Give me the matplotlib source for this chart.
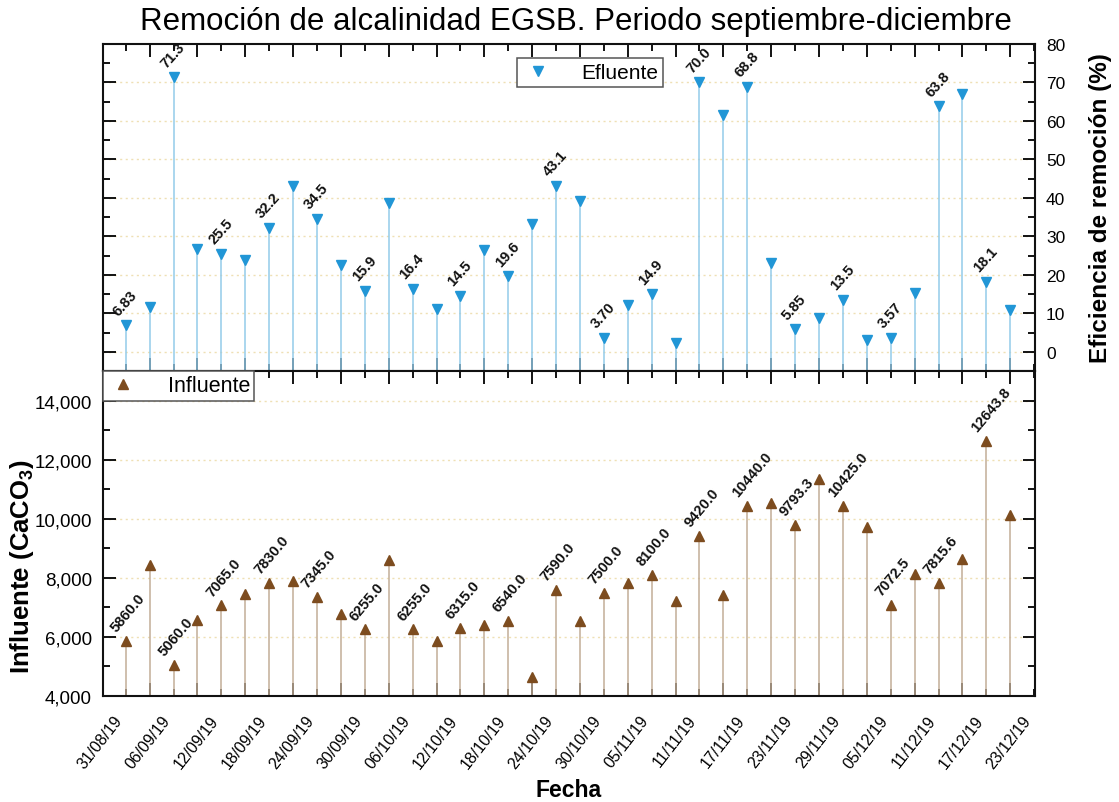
import matplotlib
matplotlib.use("Agg")
import matplotlib.pyplot as plt
import matplotlib.dates as mdates
from matplotlib.ticker import FixedLocator, MultipleLocator, FuncFormatter
from matplotlib.lines import Line2D
import pandas as pd

plt.rcParams['font.family'] = ['Liberation Sans', 'DejaVu Sans']
plt.rcParams['mathtext.fontset'] = 'custom'
plt.rcParams['mathtext.rm'] = 'Liberation Sans'
plt.rcParams['mathtext.bf'] = 'Liberation Sans:bold'

# ---------------- data ----------------
fechas_muestra = [
    "31/08/19", "03/09/19", "06/09/19", "09/09/19", "12/09/19", "15/09/19",
    "18/09/19", "21/09/19", "24/09/19", "27/09/19", "30/09/19", "03/10/19",
    "06/10/19", "09/10/19", "12/10/19", "15/10/19", "18/10/19", "21/10/19",
    "24/10/19", "27/10/19", "30/10/19", "02/11/19", "05/11/19", "08/11/19",
    "11/11/19", "14/11/19", "17/11/19", "20/11/19", "23/11/19", "26/11/19",
    "29/11/19", "02/12/19", "05/12/19", "08/12/19", "11/12/19", "14/12/19",
    "17/12/19", "20/12/19",
]
efluente = [6.83, 11.6, 71.3, 26.7, 25.5, 23.9, 32.2, 43.2, 34.5, 22.5,
            15.9, 38.7, 16.4, 11.1, 14.5, 26.5, 19.6, 33.2, 43.1, 39.3,
            3.70, 12.2, 14.9, 2.4, 70.0, 61.5, 68.8, 23.2, 5.85, 8.7,
            13.5, 3.0, 3.57, 15.4, 63.8, 67.1, 18.1, 10.8]
influente = [5860.0, 8420, 5060.0, 6560, 7065.0, 7450, 7830.0, 7900, 7345.0, 6780,
             6255.0, 8600, 6255.0, 5860, 6315.0, 6410, 6540.0, 4660, 7590.0, 6555,
             7500.0, 7840, 8100.0, 7210, 9420.0, 7435, 10440.0, 10520, 9793.3, 11330,
             10425.0, 9710, 7072.5, 8145, 7815.6, 8630, 12643.8, 10125]
etiquetas_fecha = ["31/08/19", "06/09/19", "12/09/19", "18/09/19", "24/09/19",
                   "30/09/19", "06/10/19", "12/10/19", "18/10/19", "24/10/19",
                   "30/10/19", "05/11/19", "11/11/19", "17/11/19", "23/11/19",
                   "29/11/19", "05/12/19", "11/12/19", "17/12/19", "23/12/19"]
minor_fechas = ["03/09/19", "09/09/19", "15/09/19", "21/09/19", "27/09/19",
                "03/10/19", "09/10/19", "15/10/19", "21/10/19", "27/10/19",
                "02/11/19", "08/11/19", "14/11/19", "20/11/19", "26/11/19",
                "02/12/19", "08/12/19", "14/12/19", "20/12/19"]

titulo = "Remoción de alcalinidad EGSB. Periodo septiembre-diciembre"

x = mdates.date2num(pd.to_datetime(fechas_muestra, format="%d/%m/%y"))
xt = mdates.date2num(pd.to_datetime(etiquetas_fecha, format="%d/%m/%y"))
xm = mdates.date2num(pd.to_datetime(minor_fechas, format="%d/%m/%y"))

# ---------------- style ----------------
W, H = 1119, 803
fig = plt.figure(figsize=(W / 100, H / 100), dpi=100)
L, R = 103, 1035
ax1 = fig.add_axes([L / W, 1 - 372 / H, (R - L) / W, (372 - 45) / H])
ax2 = fig.add_axes([L / W, 1 - 697 / H, (R - L) / W, (697 - 372) / H], sharex=ax1)

blue = '#2196d6'
blue_stem = '#93cbea'
brown = '#7d4c1f'
brown_stem = '#c2ad97'
grid_c = '#efe0b4'

x0 = xt[0]
xlim = (x0 - 2.85, x0 + 114.1)

# top panel
ax1.vlines(x, -5, efluente, color=blue_stem, lw=1.1, zorder=2)
ax1.plot(x, efluente, linestyle='none', marker='v', color=blue, ms=6.5, zorder=3)
for i, (xi, v) in enumerate(zip(x, efluente)):
    if i % 2 == 0:
        ax1.annotate(f"{v:#.3g}", (xi, v), xytext=(-3.5, 5.5), textcoords='offset points',
                     rotation=48, rotation_mode='anchor', ha='left', va='bottom',
                     fontsize=10.5, fontweight='bold', color='#111111', zorder=4)
ax1.set_ylim(-5, 80)
ax1.yaxis.set_major_locator(MultipleLocator(10))
ax1.yaxis.set_minor_locator(MultipleLocator(5))
ax1.yaxis.set_label_position('right')
ax1.set_ylabel("Eficiencia de remoción (%)", fontsize=17.5, fontweight='bold')
ax1.yaxis.set_label_coords(1.0 + (1089 - R) / (R - L), 0.5)
ax1.tick_params(axis='y', which='both', direction='in', left=True, right=True,
                labelleft=False, labelright=True, labelsize=12.5, width=1.3, pad=8)
ax1.tick_params(axis='y', which='major', length=9)
ax1.tick_params(axis='y', which='minor', length=5)
for yv in range(0, 80, 10):
    ax1.axhline(yv, color=grid_c, lw=1, ls=(0, (1.5, 2.5)), zorder=1)

# bottom panel
ax2.vlines(x, 4000, influente, color=brown_stem, lw=1.1, zorder=2)
ax2.plot(x, influente, linestyle='none', marker='^', color=brown, ms=6.5, zorder=3)
for i, (xi, v) in enumerate(zip(x, influente)):
    if i % 2 == 0:
        ax2.annotate(f"{v:.1f}", (xi, v), xytext=(-5, 5), textcoords='offset points',
                     rotation=50, rotation_mode='anchor', ha='left', va='bottom',
                     fontsize=10.5, fontweight='bold', color='#111111', zorder=4)
ax2.set_ylim(4000, 15000)
ax2.yaxis.set_major_locator(MultipleLocator(2000))
ax2.yaxis.set_minor_locator(MultipleLocator(1000))
ax2.yaxis.set_major_formatter(FuncFormatter(lambda v, p: f"{int(v):,}"))
ax2.set_ylabel(r"Influente (CaCO$_{\mathbf{3}}$)", fontsize=18.5, fontweight='bold')
ax2.yaxis.set_label_coords(-(L - 36) / (R - L), 0.4)
ax2.tick_params(axis='y', which='both', direction='in', left=True, right=True,
                labelleft=True, labelright=False, labelsize=13.5, width=1.3, pad=8)
ax2.tick_params(axis='y', which='major', length=9)
ax2.tick_params(axis='y', which='minor', length=5)
for yv in range(6000, 15000, 2000):
    ax2.axhline(yv, color=grid_c, lw=1, ls=(0, (1.5, 2.5)), zorder=1)

# x axis
ax2.set_xlim(*xlim)
for ax in (ax1, ax2):
    ax.xaxis.set_major_locator(FixedLocator(xt))
    ax.xaxis.set_minor_locator(FixedLocator(xm))
    ax.tick_params(axis='x', which='both', direction='in', top=True, bottom=True,
                   width=1.3)
    ax.tick_params(axis='x', which='major', length=5)
    ax.tick_params(axis='x', which='minor', length=9.5)
    for s in ax.spines.values():
        s.set_linewidth(1.5)
        s.set_color('#111111')
ax1.tick_params(axis='x', which='both', labelbottom=False)
ax2.set_xticks(xt)
ax2.set_xticklabels(etiquetas_fecha, rotation=52, ha='right', va='top', fontsize=11.5)
ax2.tick_params(axis='x', which='major', pad=12)
ax2.set_xlabel("Fecha", fontsize=16.5, fontweight='bold', labelpad=5)

# legends
h1 = Line2D([], [], linestyle='none', marker='v', color=blue, ms=6.5)
leg1 = ax1.legend([h1], ["Efluente"], loc='upper left', bbox_to_anchor=(0.4445, 0.958),
                  fontsize=15, frameon=True, fancybox=False, framealpha=1,
                  edgecolor='#555555', borderpad=0.25, handlelength=1.5,
                  handletextpad=1.3, borderaxespad=0)
leg1.get_frame().set_linewidth(1.1)
h2 = Line2D([], [], linestyle='none', marker='^', color=brown, ms=6.5)
leg2 = ax2.legend([h2], ["Influente"], loc='upper left', bbox_to_anchor=(0.0, 1.0),
                  fontsize=15.5, frameon=True, fancybox=False, framealpha=1,
                  edgecolor='#555555', borderpad=0.2, handlelength=1.5,
                  handletextpad=1.3, borderaxespad=0)
leg2.get_frame().set_linewidth(1.1)

fig.text(576 / W, 1 - 22 / H, titulo, ha='center', va='center', fontsize=22.5)

fig.savefig("out.png", dpi=100)
